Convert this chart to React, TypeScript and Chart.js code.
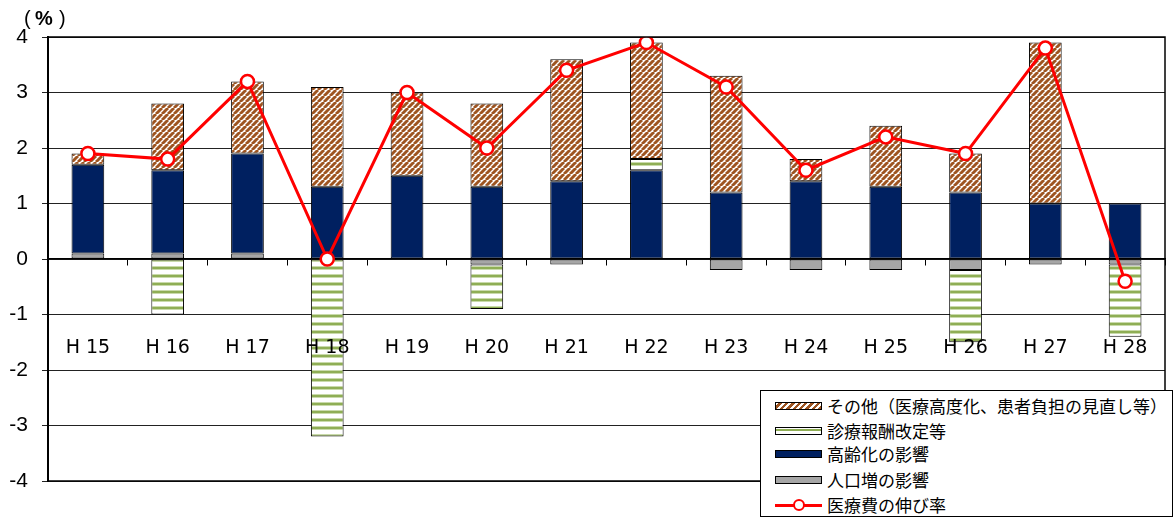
import React, { useEffect, useRef } from "react";
import { Chart, registerables } from "chart.js";

Chart.register(...registerables);

const categories = ["H 15", "H 16", "H 17", "H 18", "H 19", "H 20", "H 21", "H 22", "H 23", "H 24", "H 25", "H 26", "H 27", "H 28"];
const populationEffect = [0.1, 0.1, 0.1, null, null, -0.1, -0.1, null, -0.2, -0.2, -0.2, -0.2, -0.1, -0.1];
const agingEffect = [1.6, 1.5, 1.8, 1.3, 1.5, 1.3, 1.4, 1.6, 1.2, 1.4, 1.3, 1.2, 1.0, 1.0];
const feeRevision = [null, -1.0, null, -3.2, null, -0.8, null, 0.2, null, null, null, -1.3, null, -1.3];
const otherFactors = [0.2, 1.2, 1.3, 1.8, 1.5, 1.5, 2.2, 2.1, 2.1, 0.4, 1.1, 0.7, 2.9, null];
const growthRate = [1.9, 1.8, 3.2, 0.0, 3.0, 2.0, 3.4, 3.9, 3.1, 1.6, 2.2, 1.9, 3.8, -0.4];
const yTicks = [4, 3, 2, 1, 0, -1, -2, -3, -4];

const legendLabels = [
  "その他（医療高度化、患者負担の見直し等）",
  "診療報酬改定等",
  "高齢化の影響",
  "人口増の影響",
  "医療費の伸び率",
];

const NAVY = "#002060";
const GRAY = "#A6A6A6";
const BROWN = "#9E5420";
const GREEN = "#8FAE55";

function makeHatch(): CanvasPattern | string {
  const s = 6;
  const c = document.createElement("canvas");
  c.width = s;
  c.height = s;
  const g = c.getContext("2d");
  if (!g) return BROWN;
  g.fillStyle = "#ffffff";
  g.fillRect(0, 0, s, s);
  g.strokeStyle = BROWN;
  g.lineWidth = 2.9;
  g.beginPath();
  for (const k of [-s, 0, s]) {
    g.moveTo(k, s);
    g.lineTo(k + s, 0);
  }
  g.stroke();
  return g.createPattern(c, "repeat") || BROWN;
}

function makeStripes(): CanvasPattern | string {
  const c = document.createElement("canvas");
  c.width = 8;
  c.height = 8;
  const g = c.getContext("2d");
  if (!g) return GREEN;
  g.fillStyle = "#ffffff";
  g.fillRect(0, 0, 8, 8);
  g.fillStyle = "#C9DAAA";
  g.fillRect(0, 2, 8, 4);
  g.fillStyle = GREEN;
  g.fillRect(0, 3, 8, 2);
  return g.createPattern(c, "repeat") || GREEN;
}

const borderPlugin = {
  id: "areaBorder",
  afterDatasetsDraw(chart: any) {
    const { ctx, chartArea } = chart;
    ctx.save();
    ctx.strokeStyle = "#000";
    ctx.lineWidth = 1.5;
    ctx.strokeRect(chartArea.left, chartArea.top, chartArea.right - chartArea.left, chartArea.bottom - chartArea.top);
    ctx.restore();
  },
};

export default function App() {
  const ref = useRef<HTMLCanvasElement | null>(null);

  useEffect(() => {
    document.body.style.margin = "0";
    if (!ref.current) return;
    const hatch = makeHatch();
    const stripes = makeStripes();
    const barCommon = {
      type: "bar" as const,
      borderColor: "#000",
      borderWidth: 1,
      borderSkipped: false as const,
      categoryPercentage: 0.41,
      barPercentage: 1,
      order: 1,
    };
    const chart = new Chart(ref.current, {
      type: "bar",
      data: {
        labels: categories,
        datasets: [
          { ...barCommon, label: legendLabels[3], data: populationEffect as any, backgroundColor: GRAY },
          { ...barCommon, label: legendLabels[2], data: agingEffect as any, backgroundColor: NAVY },
          { ...barCommon, label: legendLabels[1], data: feeRevision as any, backgroundColor: stripes as any },
          { ...barCommon, label: legendLabels[0], data: otherFactors as any, backgroundColor: hatch as any },
          {
            type: "line" as const,
            label: legendLabels[4],
            data: growthRate,
            borderColor: "#FF0000",
            borderWidth: 3,
            pointRadius: 6.5,
            pointBorderWidth: 2.5,
            pointBackgroundColor: "#FFFFFF",
            pointBorderColor: "#FF0000",
            tension: 0,
            order: 0,
          } as any,
        ],
      },
      options: {
        responsive: false,
        animation: false,
        layout: { padding: { top: 37, right: 1, bottom: 37, left: 0 } },
        plugins: {
          legend: { display: false },
          tooltip: { enabled: false },
          title: { display: false },
        },
        scales: {
          x: {
            type: "category",
            stacked: true,
            position: { y: 0 } as any,
            afterFit(scale: any) {
              scale.paddingLeft = 0;
              scale.paddingRight = 0;
            },
            grid: {
              offset: true,
              drawOnChartArea: false,
              drawTicks: true,
              tickLength: 6,
              color: "#000",
              lineWidth: 1,
            },
            border: { display: true, color: "#000", width: 1.5 },
            ticks: {
              z: 1,
              color: "#000",
              padding: 72,
              maxRotation: 0,
              font: { family: "'DejaVu Sans'", size: 19 },
            },
          },
          y: {
            stacked: true,
            min: -4,
            max: 4,
            afterFit(scale: any) {
              scale.width = 48;
            },
            afterBuildTicks(scale: any) {
              scale.ticks = yTicks.map((v) => ({ value: v }));
            },
            grid: {
              color: "#222",
              lineWidth: 1,
              tickLength: 6,
              drawTicks: true,
            },
            border: { display: true, color: "#000", width: 2 },
            ticks: {
              color: "#000",
              padding: 14,
              font: { family: "'Liberation Sans', Arial", size: 21 },
            },
          },
        },
      },
      plugins: [borderPlugin],
    });
    return () => chart.destroy();
  }, []);

  const swatchBase: React.CSSProperties = {
    position: "absolute",
    left: 14,
    width: 47,
    height: 8,
    border: "1.5px solid #000",
    boxSizing: "border-box",
  };
  const rowTops = [15, 40, 63, 89, 114];
  const swatchStyles: React.CSSProperties[] = [
    { ...swatchBase, background: `repeating-linear-gradient(-45deg, ${BROWN} 0 2.5px, #fff 2.5px 4.5px)` },
    { ...swatchBase, background: `linear-gradient(#fff 0 1.5px, ${GREEN} 1.5px 3.5px, #fff 3.5px)` },
    { ...swatchBase, background: NAVY },
    { ...swatchBase, background: GRAY },
  ];

  const unitStyle: React.CSSProperties = {
    position: "absolute",
    top: 6,
    fontFamily: "'Liberation Sans', Arial, sans-serif",
    fontSize: 20,
    lineHeight: "24px",
    color: "#000",
    whiteSpace: "nowrap",
  };

  return (
    <div style={{ position: "relative", width: 1174, height: 518 }}>
      <canvas ref={ref} width={1174} height={518} style={{ display: "block", width: 1174, height: 518 }} />
      <div style={{ position: "absolute", left: 24, top: 0, width: 48, height: 32 }} aria-label="（%）">
        <span style={{ ...unitStyle, left: 0, fontWeight: 300 }}>(</span>
        <span style={{ ...unitStyle, left: 11, fontWeight: 700 }}>%</span>
        <span style={{ ...unitStyle, left: 35, fontWeight: 300 }}>)</span>
      </div>
      <div
        style={{
          position: "absolute",
          left: 760,
          top: 390,
          width: 413,
          height: 127,
          boxSizing: "border-box",
          border: "1.5px solid #000",
          background: "#fff",
          fontFamily: "'Noto Sans CJK JP', sans-serif",
          fontSize: 17,
          color: "#000",
        }}
      >
        {legendLabels.map((lab, i) => (
          <div key={lab} style={{ position: "absolute", left: 0, top: rowTops[i] - 12, height: 24, width: "100%" }}>
            {i < 4 ? (
              <div style={{ ...swatchStyles[i], top: 8 }} />
            ) : (
              <div style={{ position: "absolute", left: 14, top: 0, width: 47, height: 24 }}>
                <div style={{ position: "absolute", left: 0, top: 10.5, width: 47, height: 3, background: "#FF0000" }} />
                <div
                  style={{
                    position: "absolute",
                    left: 18,
                    top: 6,
                    width: 12,
                    height: 12,
                    boxSizing: "border-box",
                    borderRadius: "50%",
                    border: "2.5px solid #FF0000",
                    background: "#fff",
                  }}
                />
              </div>
            )}
            <span style={{ position: "absolute", left: 66, top: 0, lineHeight: "24px", whiteSpace: "nowrap" }}>{lab}</span>
          </div>
        ))}
      </div>
    </div>
  );
}
